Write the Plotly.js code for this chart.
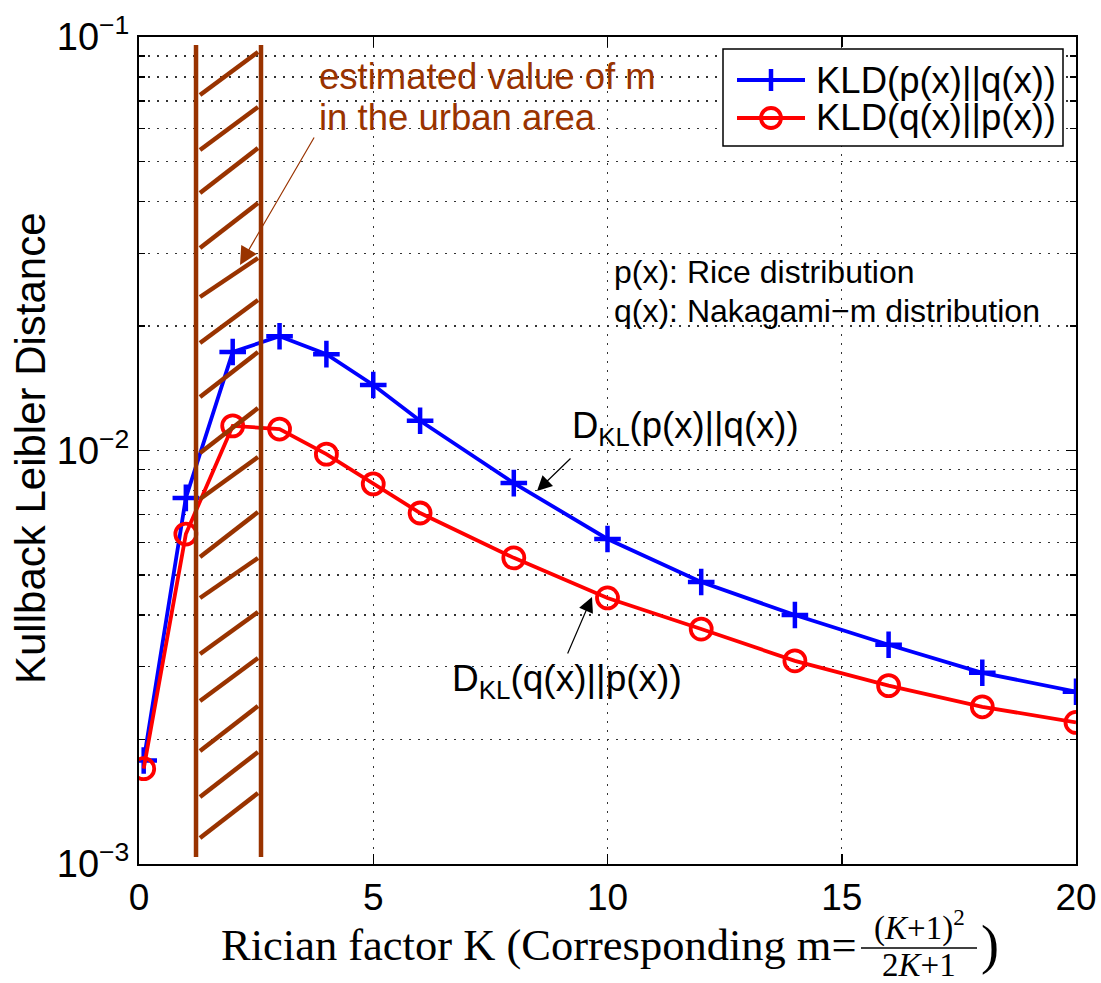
<!DOCTYPE html>
<html>
<head>
<meta charset="utf-8">
<script src="https://cdn.plot.ly/plotly-3.0.1.min.js"></script>
<style>html,body{margin:0;padding:0;background:#fff;}#chart{width:1101px;height:983px;}</style>
</head>
<body>
<div id="chart"></div>
<script>
// ---- data ----
const K = [0.1, 1, 2, 3, 4, 5, 6, 8, 10, 12, 14, 16, 18, 20];
const kldPQ = [0.00178, 0.00768, 0.0173, 0.0189, 0.0171, 0.0144, 0.0118, 0.00834, 0.00611, 0.00481, 0.0040, 0.00339, 0.0029, 0.00261];
const kldQP = [0.0017, 0.00628, 0.01147, 0.01127, 0.0098, 0.0083, 0.00706, 0.0055, 0.0044, 0.0037, 0.0031, 0.0027, 0.0024, 0.0022];
const seriesNames = ['KLD(p(x)||q(x))', 'KLD(q(x)||p(x))'];
const seriesColors = ['#0000ff', '#ff0000'];
const xTicks = [0, 5, 10, 15, 20];
const yTicks = [0.001, 0.01, 0.1];
const yTickText = ['10<sup>\u22123</sup>', '10<sup>\u22122</sup>', '10<sup>\u22121</sup>'];
const yMinor = [0.002,0.003,0.004,0.005,0.006,0.007,0.008,0.009,0.02,0.03,0.04,0.05,0.06,0.07,0.08,0.09];
const urbanK = [1.217, 2.604];   // estimated range of m in urban area (in K)

// ---- layout helpers ----
const L = 139, R = 25, T = 37, B = 119, W = 1101, H = 983;
const pw = W - L - R, ph = H - T - B;
const px = v => (v - L) / pw;          // pixel x -> paper x
const py = v => (H - B - v) / ph;      // pixel y -> paper y
const BROWN = '#993300';
const SANS = 'Liberation Sans, Arial, sans-serif';
const SERIF = 'Liberation Serif, Times New Roman, serif';
const GRID_DASH = '2px,7px';

const traces = [
  {x: K, y: kldPQ, name: seriesNames[0], type: 'scatter', mode: 'lines+markers', showlegend: false,
   line: {color: seriesColors[0], width: 3.8},
   marker: {symbol: 'cross-thin', size: 19, color: seriesColors[0], line: {color: seriesColors[0], width: 4.5}}},
  {x: K, y: kldQP, name: seriesNames[1], type: 'scatter', mode: 'lines+markers', showlegend: false,
   line: {color: seriesColors[1], width: 3.8},
   marker: {symbol: 'circle-open', size: 21, color: seriesColors[1], line: {color: seriesColors[1], width: 3.8}}}
];

const shapes = [];
// vertical boundaries of the hatched region
urbanK.forEach(k => shapes.push({type: 'line', xref: 'x', yref: 'paper', x0: k, x1: k,
  y0: py(857), y1: py(45), line: {color: BROWN, width: 4.5}}));
// hatch strokes (decoration)
const hatch = [[95,52],[150,107],[193,148],[248,203],[297,258],[343,300],[397,352],[453,408],
  [499,457],[557,512],[598,558],[654,612],[701,658],[751,706],[797,752],[838,793]];
hatch.forEach(h => shapes.push({type: 'line', xref: 'paper', yref: 'paper',
  x0: px(200), x1: px(258), y0: py(h[0]), y1: py(h[1]), line: {color: BROWN, width: 4.5}}));
// fraction bar in x-axis title
shapes.push({type: 'line', xref: 'paper', yref: 'paper', x0: px(861), x1: px(977),
  y0: py(948), y1: py(948), line: {color: '#000', width: 1.6}});

// legend box (drawn manually to match the reference's compact rows)
shapes.push({type: 'rect', xref: 'paper', yref: 'paper', x0: px(723), x1: px(1063),
  y0: py(146), y1: py(49), line: {color: '#000', width: 1.5}, fillcolor: '#fff', layer: 'above'});
const legRows = [80, 118];
legRows.forEach((yy, i) => {
  shapes.push({type: 'line', xref: 'paper', yref: 'paper', x0: px(737), x1: px(805),
    y0: py(yy), y1: py(yy), line: {color: seriesColors[i], width: 3.8}, layer: 'above'});
});
shapes.push({type: 'line', xref: 'paper', yref: 'paper', x0: px(771), x1: px(771),
  y0: py(legRows[0] + 11), y1: py(legRows[0] - 11), line: {color: seriesColors[0], width: 4.5}, layer: 'above'});
shapes.push({type: 'circle', xref: 'paper', yref: 'paper', x0: px(761), x1: px(781),
  y0: py(legRows[1] + 10), y1: py(legRows[1] - 10), line: {color: seriesColors[1], width: 3.8}, layer: 'above'});

const annotations = [
  {xref: 'paper', yref: 'paper', x: px(814), y: py(legRows[0]), xanchor: 'left', yanchor: 'middle',
   text: seriesNames[0], showarrow: false, font: {family: SANS, size: 36.5, color: '#000'}},
  {xref: 'paper', yref: 'paper', x: px(814), y: py(legRows[1]), xanchor: 'left', yanchor: 'middle',
   text: seriesNames[1], showarrow: false, font: {family: SANS, size: 36.5, color: '#000'}},
  {xref: 'paper', yref: 'paper', x: px(317), y: py(77), xanchor: 'left', yanchor: 'middle',
   text: 'estimated value of m', showarrow: false, font: {family: SANS, size: 36.5, color: BROWN}},
  {xref: 'paper', yref: 'paper', x: px(317), y: py(117), xanchor: 'left', yanchor: 'middle',
   text: 'in the urban area', showarrow: false, font: {family: SANS, size: 36.5, color: BROWN}},
  {xref: 'paper', yref: 'paper', x: px(240), y: py(265), ax: 75, ay: -129, text: '',
   showarrow: true, arrowhead: 2, arrowsize: 3, arrowwidth: 1.2, arrowcolor: BROWN},
  {xref: 'paper', yref: 'paper', x: px(612), y: py(272), xanchor: 'left', yanchor: 'middle',
   text: 'p(x): Rice distribution', showarrow: false, font: {family: SANS, size: 32, color: '#000'}},
  {xref: 'paper', yref: 'paper', x: px(612), y: py(311), xanchor: 'left', yanchor: 'middle',
   text: 'q(x): Nakagami\u2212m distribution', showarrow: false, font: {family: SANS, size: 32, color: '#000'}},
  {xref: 'paper', yref: 'paper', x: px(570), y: py(428), xanchor: 'left', yanchor: 'middle',
   text: 'D<sub>KL</sub>(p(x)||q(x))', showarrow: false, font: {family: SANS, size: 36.5, color: '#000'}},
  {xref: 'paper', yref: 'paper', x: px(537), y: py(491), ax: 35, ay: -34, text: '',
   showarrow: true, arrowhead: 2, arrowsize: 2.5, arrowwidth: 1.2, arrowcolor: '#000'},
  {xref: 'paper', yref: 'paper', x: px(450), y: py(681), xanchor: 'left', yanchor: 'middle',
   text: 'D<sub>KL</sub>(q(x)||p(x))', showarrow: false, font: {family: SANS, size: 37, color: '#000'}},
  {xref: 'paper', yref: 'paper', x: px(592), y: py(597), ax: -25, ay: 58, text: '',
   showarrow: true, arrowhead: 2, arrowsize: 2.5, arrowwidth: 1.2, arrowcolor: '#000'},
  // x-axis title built from pieces
  {xref: 'paper', yref: 'paper', x: px(859), y: py(945), xanchor: 'right', yanchor: 'middle',
   text: 'Rician factor K (Corresponding m=', showarrow: false, font: {family: SERIF, size: 44.5, color: '#000'}},
  {xref: 'paper', yref: 'paper', x: px(919), y: py(925), xanchor: 'center', yanchor: 'middle',
   text: '(<i>K</i>+1)<sup>2</sup>', showarrow: false, font: {family: SERIF, size: 33, color: '#000'}},
  {xref: 'paper', yref: 'paper', x: px(919), y: py(965), xanchor: 'center', yanchor: 'middle',
   text: '2<i>K</i>+1', showarrow: false, height: 30, borderpad: 0, font: {family: SERIF, size: 33, color: '#000'}},
  {xref: 'paper', yref: 'paper', x: px(979), y: py(945), xanchor: 'left', yanchor: 'middle',
   text: ')', showarrow: false, font: {family: SERIF, size: 54, color: '#000'}},
  // y-axis title
  {xref: 'paper', yref: 'paper', x: px(30), y: py(448), xanchor: 'center', yanchor: 'middle',
   text: 'Kullback Leibler Distance', textangle: -90, showarrow: false,
   font: {family: SANS, size: 42, color: '#000'}}
];

const layout = {
  width: W, height: H,
  margin: {l: L, r: R, t: T, b: B, pad: 0},
  paper_bgcolor: '#fff', plot_bgcolor: '#fff',
  font: {family: SANS, color: '#000'},
  showlegend: false,
  xaxis: {
    range: [0, 20], tickmode: 'array', tickvals: xTicks, ticktext: xTicks.map(String),
    ticks: 'inside', ticklen: 10, tickwidth: 1.5, tickcolor: '#000',
    showline: true, linecolor: '#000', linewidth: 2, mirror: 'ticks',
    showgrid: true, gridcolor: '#333', griddash: GRID_DASH, gridwidth: 1.2,
    zeroline: false, tickfont: {family: SANS, size: 37, color: '#000'}
  },
  yaxis: {
    type: 'log', range: [-3, -1], tickmode: 'array', tickvals: yTicks, ticktext: yTickText,
    ticks: 'inside', ticklen: 10, tickwidth: 1.5, tickcolor: '#000',
    showline: true, linecolor: '#000', linewidth: 2, mirror: 'ticks',
    showgrid: true, gridcolor: '#333', griddash: GRID_DASH, gridwidth: 1.2,
    zeroline: false, tickfont: {family: SANS, size: 38, color: '#000'},
    minor: {tickmode: 'array', tickvals: yMinor, ticks: 'inside', ticklen: 6, tickwidth: 1.2,
      tickcolor: '#000', showgrid: true, gridcolor: '#333', griddash: GRID_DASH, gridwidth: 1.2}
  },
  shapes: shapes,
  annotations: annotations
};

Plotly.newPlot('chart', traces, layout, {displayModeBar: false, staticPlot: true});
</script>
</body>
</html>
